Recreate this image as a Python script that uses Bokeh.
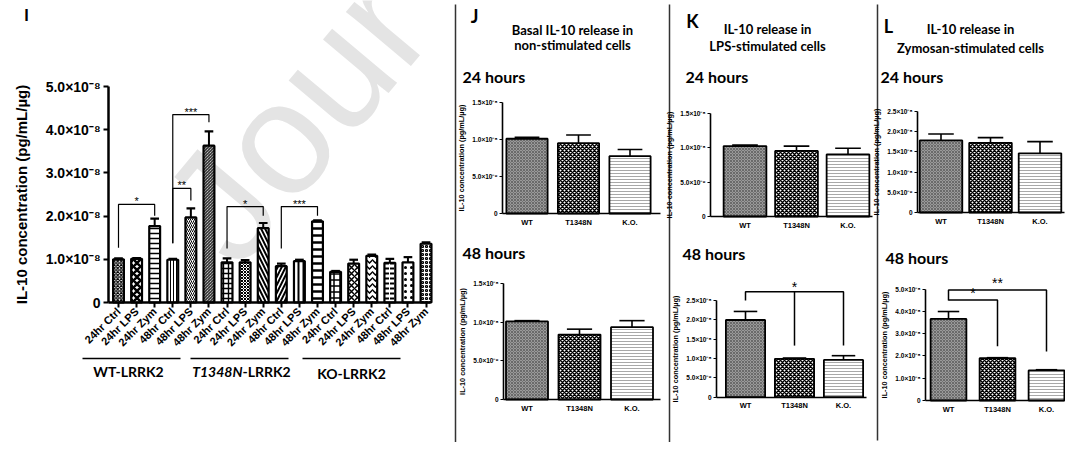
import math
from bokeh.plotting import figure
from bokeh.models import Range1d, FixedTicker, Label, ColumnDataSource, LinearAxis
from bokeh.embed import file_html
from bokeh.resources import INLINE
from bokeh.core.properties import value

# ---------------- data (IL-10, in units of 1e-8 pg/mL/ug) ----------------
i_conditions = ["24hr Ctrl", "24hr LPS", "24hr Zym", "48hr Ctrl", "48hr LPS", "48hr Zym"]
i_groups = ["WT-LRRK2", "T1348N-LRRK2", "KO-LRRK2"]
i_wt_means = [1.00, 1.01, 1.77, 0.99, 1.97, 3.63]
i_wt_errs = [0.02, 0.02, 0.17, 0.02, 0.21, 0.33]
i_t_means = [0.93, 0.93, 1.72, 0.84, 0.96, 1.88]
i_t_errs = [0.09, 0.05, 0.12, 0.06, 0.03, 0.02]
i_ko_means = [0.71, 0.90, 1.08, 0.92, 0.93, 1.36]
i_ko_errs = [0.02, 0.09, 0.03, 0.09, 0.12, 0.03]
i_y_ticks = [0, 1, 2, 3, 4, 5]
# brackets: (x_left, x_right, y_bar, y_left_end, y_right_end, stars)
i_brackets = [(0, 2, 2.27, 1.27, 2.01, "*"), (3, 4, 2.64, 1.37, 2.36, "**"),
              (3, 5, 4.35, 1.37, 4.17, "***"), (6, 8, 2.22, 1.25, 2.01, "*"),
              (9, 11, 2.22, 1.25, 2.01, "***")]

genotypes = ["WT", "T1348N", "K.O."]
j24_means = [1.01, 0.95, 0.775]
j24_errs = [0.02, 0.11, 0.09]
j48_means = [1.01, 0.84, 0.935]
j48_errs = [0.01, 0.07, 0.085]
k24_means = [1.02, 0.95, 0.90]
k24_errs = [0.015, 0.07, 0.09]
k48_means = [1.99, 0.99, 0.96]
k48_errs = [0.22, 0.02, 0.11]
l24_means = [1.78, 1.72, 1.46]
l24_errs = [0.16, 0.13, 0.29]
l48_means = [3.66, 1.90, 1.35]
l48_errs = [0.33, 0.02, 0.03]
ticks_15 = [0, 0.5, 1.0, 1.5]
ticks_25 = [0, 0.5, 1.0, 1.5, 2.0, 2.5]
ticks_50 = [0, 1, 2, 3, 4, 5]
k48_brackets = [(0, 2, 2.72, 2.49, 1.33, "*")]
k48_drops = [(1, 2.72, 1.33)]
l48_brackets = [(0, 2, 4.96, 4.48, 2.20, "**"), (0, 1, 4.51, 4.51, 2.43, "*")]

Y_LABEL = "IL-10 concentration (pg/mL/µg)"
TF = "Liberation Sans"
HF = "Lato"

W, H = 1065, 442
OFF = 0  # page -> canvas offset

p = figure(width=W, height=H, output_backend="svg", toolbar_location=None, title=None,
           x_range=Range1d(0, W), y_range=Range1d(H, 0), x_axis_type=None, y_axis_type=None,
           min_border=0)
p.min_border_left = 0
p.min_border_right = 0
p.min_border_top = 0
p.min_border_bottom = 0
p.outline_line_color = None
p.background_fill_color = "white"


def fmt_tick(v):
    if v == 0:
        return "0"
    if v < 1:
        return f"{v * 10:.1f}×10⁻⁹"
    return f"{v:.1f}×10⁻⁸"


def lab(x, y, text, size, font=HF, style="bold", align="left", baseline="middle",
        color="black", angle=0.0, level="annotation"):
    p.add_layout(Label(x=x - OFF, y=y - OFF, text=text, text_font=font,
                       text_font_size=f"{size}px", text_font_style=style, text_align=align,
                       text_baseline=baseline, text_color=color, angle=angle, level=level))


def setup(name, g):
    xn, yn = "x_" + name, "y_" + name
    c0, sp, zy, ppu = g["c0"] - OFF, g["sp"], g["zy"] - OFF, g["ppu"]
    p.extra_x_ranges[xn] = Range1d((0 - c0) / sp, (W - c0) / sp)
    p.extra_y_ranges[yn] = Range1d((zy - H) / ppu, zy / ppu)
    return xn, yn


def add_axes(g, xn, yn, n, xlabels, yticks, big):
    x_axis_pos = (g["ax"] - g["c0"]) / g["sp"]
    xa = LinearAxis(x_range_name=xn, y_range_name=yn, fixed_location=0,
                    bounds=(x_axis_pos, (g["ex"] - g["c0"]) / g["sp"]),
                    ticker=FixedTicker(ticks=list(range(n))),
                    major_label_overrides={i: l for i, l in enumerate(xlabels)})
    ya = LinearAxis(x_range_name=xn, y_range_name=yn, fixed_location=x_axis_pos,
                    bounds=(0, g["top"]), ticker=FixedTicker(ticks=yticks),
                    major_label_overrides={t: fmt_tick(t) for t in yticks},
                    axis_label=Y_LABEL)
    for ax in (xa, ya):
        ax.axis_line_color = "black"
        ax.major_tick_line_color = "black"
        ax.minor_tick_line_color = None
        ax.major_label_text_color = "black"
        ax.major_label_text_font = TF
        ax.major_label_text_font_style = "bold"
        ax.major_tick_in = 0
    ya.axis_label_text_font = TF
    ya.axis_label_text_font_style = "bold"
    ya.axis_label_text_color = "black"
    if big:
        for ax in (xa, ya):
            ax.axis_line_width = 2.5
            ax.major_tick_line_width = 2
            ax.major_tick_out = 5
        xa.major_label_orientation = math.pi / 4
        xa.major_label_text_font_size = "11px"
        xa.major_label_standoff = 2
        ya.major_label_text_font_size = "14px"
        ya.major_label_standoff = 3
        ya.axis_label_text_font_size = "15px"
        ya.axis_label_standoff = 13
    else:
        for ax in (xa, ya):
            ax.axis_line_width = 1.6
            ax.major_tick_line_width = 1.2
        xa.major_tick_out = 0
        ya.major_tick_out = 3
        xa.major_label_text_font_size = "7.5px"
        xa.major_label_standoff = 4
        ya.major_label_text_font_size = "6.5px"
        ya.major_label_standoff = 2
        ya.axis_label_text_font_size = "7.3px"
        ya.axis_label_standoff = 3
    p.add_layout(xa, "below")
    p.add_layout(ya, "left")


def draw_brackets(xn, yn, brackets, lw, size, yoff):
    xs, ys, tx, ty, tt = [], [], [], [], []
    for xl, xr, yb, yle, yre, s in brackets:
        xs.append([xl, xl, xr, xr])
        ys.append([yle, yb, yb, yre])
        tx.append((xl + xr) / 2)
        ty.append(yb)
        tt.append(s)
    p.multi_line(xs, ys, line_color="black", line_width=lw, x_range_name=xn, y_range_name=yn)
    p.text(x=tx, y=ty, text=tt, text_font=value(TF), text_font_size=size,
           text_align="center", text_baseline="middle", y_offset=yoff, text_color="black",
           x_range_name=xn, y_range_name=yn)


# ---------------- watermark ----------------
lab(195, 236, "Jour", 160, font="Liberation Sans", style="normal",
    baseline="alphabetic", color="#e4e4e4", angle=math.radians(50), level="underlay")

# ---------------- Panel I ----------------
gI = dict(ax=108, ex=430, c0=118, sp=18.09, zy=302, ppu=43.2, top=5)
xnI, ynI = setup("I", gI)
means = i_wt_means + i_t_means + i_ko_means
errs = i_wt_errs + i_t_errs + i_ko_errs
xs = list(range(len(means)))
pat = ["x", "x", "-", "|", "/", "\\", "+", "x", "\\", "/", "|", "-", "+", "x", "v", '"', ".", "o"]
psc = [3.5, 7, 5, 3, 4, 3, 5, 3, 8, 8, 5, 7, 6, 6, 6, 5, 6, 4]
pwt = [1.2, 2.5, 1.5, 1.0, 1.0, 1.0, 1.4, 1.0, 2.0, 2.0, 2.0, 2.5, 1.5, 1.5, 1.5, 2.0, 1.5, 1.2]
cap = 0.24
srcI = ColumnDataSource(dict(x=xs, top=means, upper=[m + e for m, e in zip(means, errs)],
                             cl=[x - cap for x in xs], cr=[x + cap for x in xs],
                             pat=pat, psc=psc, pwt=pwt))
p.segment("x", "top", "x", "upper", source=srcI, line_color="black", line_width=2,
          x_range_name=xnI, y_range_name=ynI)
p.segment("cl", "upper", "cr", "upper", source=srcI, line_color="black", line_width=2.2,
          x_range_name=xnI, y_range_name=ynI)
p.vbar(x="x", top="top", width=0.6, source=srcI, fill_color="white", hatch_pattern="pat",
       hatch_scale="psc", hatch_weight="pwt", hatch_color="black", line_color="black",
       line_width=2.2, x_range_name=xnI, y_range_name=ynI)
draw_brackets(xnI, ynI, i_brackets, 1.2, "11px", -3)
add_axes(gI, xnI, ynI, len(means), i_conditions * 3, i_y_ticks, True)

lab(26, 14, "I", 17, align="center")
lab(128, 371, i_groups[0], 14, align="center")
lab(242, 371, i_groups[1].split("-")[0], 14, style="bold italic", align="right")
lab(242, 371, "-" + i_groups[1].split("-")[1], 14, align="left")
lab(351, 373, i_groups[2], 14, align="center")
p.segment(x0=[82 - OFF, 190 - OFF, 302 - OFF], y0=[358 - OFF] * 3,
          x1=[180 - OFF, 288 - OFF, 400 - OFF], y1=[358 - OFF] * 3,
          line_color="black", line_width=1.6)

# ---------------- small panels ----------------
bar_fill = ["#9a9a9a", "white", "white"]
bar_hatch = ["x", "x", "-"]
bar_hcol = ["#5e5e5e", "black", "#a8a8a8"]
bar_hsc = [3, 4, 3]
bar_hwt = [0.8, 1.5, 1.0]


def small_panel(name, g, means, errs, ticks, brackets=None, drops=None, star_off=-5):
    xn, yn = setup(name, g)
    n = len(means)
    x = list(range(n))
    capw = g["bw"] * 0.3
    src = ColumnDataSource(dict(x=x, top=means, upper=[m + e for m, e in zip(means, errs)],
                                cl=[i - capw for i in x], cr=[i + capw for i in x],
                                fill=bar_fill, hatch=bar_hatch, hcol=bar_hcol,
                                hsc=bar_hsc, hwt=bar_hwt))
    p.segment("x", "top", "x", "upper", source=src, line_color="black", line_width=1.6,
              x_range_name=xn, y_range_name=yn)
    p.segment("cl", "upper", "cr", "upper", source=src, line_color="black", line_width=1.6,
              x_range_name=xn, y_range_name=yn)
    p.vbar(x="x", top="top", width=g["bw"], source=src, fill_color="fill",
           hatch_pattern="hatch", hatch_color="hcol", hatch_scale="hsc", hatch_weight="hwt",
           line_color="black", line_width=1.8, x_range_name=xn, y_range_name=yn)
    if brackets:
        draw_brackets(xn, yn, brackets, 1.5, "14px", star_off)
    if drops:
        p.segment(x0=[d[0] for d in drops], y0=[d[1] for d in drops],
                  x1=[d[0] for d in drops], y1=[d[2] for d in drops],
                  line_color="black", line_width=1.5, x_range_name=xn, y_range_name=yn)
    add_axes(g, xn, yn, n, genotypes, ticks, False)


gJ1 = dict(ax=502, ex=660, c0=526.5, sp=51.5, zy=213, ppu=74, top=1.5, bw=0.8)
gJ2 = dict(ax=503, ex=660, c0=526.5, sp=52.5, zy=399, ppu=77.3, top=1.5, bw=0.8)
gK1 = dict(ax=710, ex=872, c0=744.5, sp=51.5, zy=216, ppu=69, top=1.5, bw=0.83)
gK2 = dict(ax=716, ex=866, c0=745, sp=49, zy=396.7, ppu=38.8, top=2.5, bw=0.8)
gL1 = dict(ax=917, ex=1064, c0=940.5, sp=49.5, zy=212, ppu=40.5, top=2.5, bw=0.86)
gL2 = dict(ax=925, ex=1064, c0=948, sp=49, zy=400, ppu=22.3, top=5, bw=0.73)

small_panel("J1", gJ1, j24_means, j24_errs, ticks_15)
small_panel("J2", gJ2, j48_means, j48_errs, ticks_15)
small_panel("K1", gK1, k24_means, k24_errs, ticks_15)
small_panel("K2", gK2, k48_means, k48_errs, ticks_25, brackets=k48_brackets, drops=k48_drops,
            star_off=-5)
small_panel("L1", gL1, l24_means, l24_errs, ticks_25)
small_panel("L2", gL2, l48_means, l48_errs, ticks_50, brackets=l48_brackets, star_off=-7)

# headers
lab(474, 15, "J", 18, align="center")
lab(572, 29, "Basal IL-10 release in", 13, align="center")
lab(572, 44, "non-stimulated cells", 13, align="center")
lab(462, 76, "24 hours", 16)
lab(462, 252, "48 hours", 16)

lab(692, 20, "K", 18, align="center")
lab(767, 28, "IL-10 release in", 13, align="center")
lab(767, 45, "LPS-stimulated cells", 13, align="center")
lab(685, 76, "24 hours", 16)
lab(682, 253, "48 hours", 16)

lab(888, 25, "L", 18, align="center")
lab(970, 28, "IL-10 release in", 13, align="center")
lab(970, 47, "Zymosan-stimulated cells", 13, align="center")
lab(880, 76, "24 hours", 16)
lab(885, 257, "48 hours", 16)

# panel separators
p.segment(x0=[455 - OFF, 669 - OFF, 877 - OFF], y0=[4 - OFF] * 3,
          x1=[455 - OFF, 669 - OFF, 877 - OFF], y1=[450 - OFF, 450 - OFF, 440 - OFF],
          line_color="#333333", line_width=1.5)

open("out.html", "w").write(file_html(p, INLINE))
